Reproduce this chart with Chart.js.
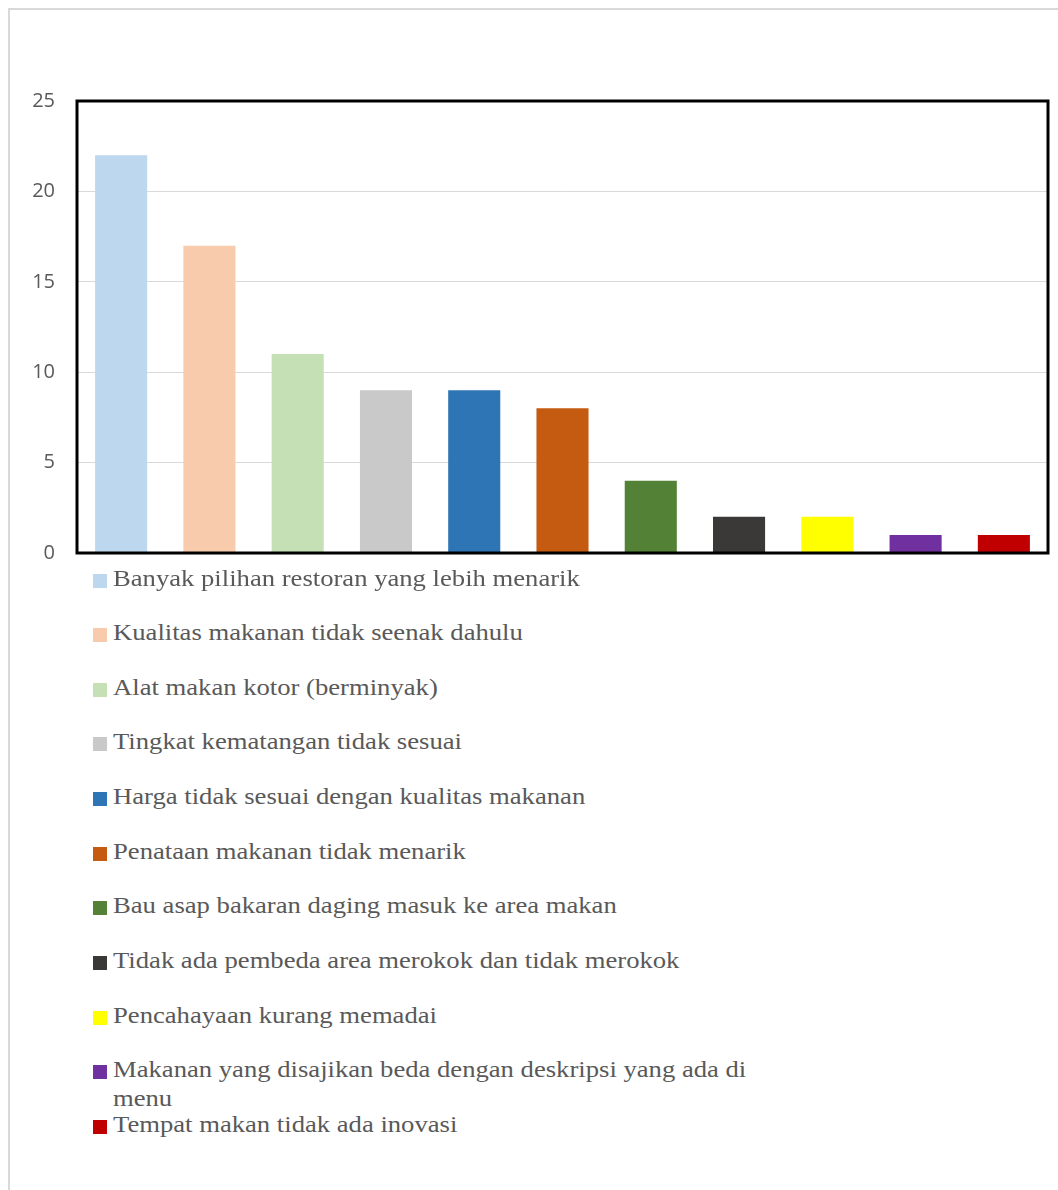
<!DOCTYPE html>
<html>
<head>
<meta charset="utf-8">
<script src="https://cdn.jsdelivr.net/npm/chart.js@4/dist/chart.umd.min.js"></script>
<style>
  html, body { margin: 0; padding: 0; background: #fff; }
  body { width: 1058px; height: 1190px; position: relative; overflow: hidden; }
  #frame { position: absolute; left: 8px; top: 8px; width: 1070px; height: 1200px; border: 2px solid #d9d9d9; box-sizing: border-box; }
  #barChart { position: absolute; left: 0; top: 0; }
  #legend { position: absolute; left: 0; top: 0; }
  .item { position: absolute; left: 93px; width: 700px; }
  .box { position: absolute; left: 0; top: 10px; width: 14px; height: 14px; }
  .txt { position: absolute; left: 20px; top: 0; width: 590px; font-family: "Liberation Serif", "Times New Roman", serif; font-size: 24px; line-height: 29px; color: #595959; transform: scaleX(1.11); transform-origin: 0 0; }
</style>
</head>
<body>
<div id="frame"></div>
<canvas id="barChart" width="1058" height="587"></canvas>
<div id="legend"></div>
<script>
// Alasan tidak kembali
const categories = [
    'Banyak pilihan restoran yang lebih menarik',
    'Kualitas makanan tidak seenak dahulu',
    'Alat makan kotor (berminyak)',
    'Tingkat kematangan tidak sesuai',
    'Harga tidak sesuai dengan kualitas makanan',
    'Penataan makanan tidak menarik',
    'Bau asap bakaran daging masuk ke area makan',
    'Tidak ada pembeda area merokok dan tidak merokok',
    'Pencahayaan kurang memadai',
    'Makanan yang disajikan beda dengan deskripsi yang ada di menu',
    'Tempat makan tidak ada inovasi'
];
const values = [22, 17, 11, 9, 9, 8, 4, 2, 2, 1, 1];
const barColors = ['#BDD7EE', '#F8CBAD', '#C5E0B4', '#C9C9C9', '#2E75B6', '#C55A11',
    '#538135', '#3B3838', '#FFFF00', '#7030A0', '#C00000'];
const yTicks = [0, 5, 10, 15, 20, 25];

// black frame round the plot area
const plotBorder = {
    id: 'plotBorder',
    afterDraw(chart) {
        const a = chart.chartArea;
        const c = chart.ctx;
        c.save();
        c.strokeStyle = '#000';
        c.lineWidth = 3;
        c.strokeRect(a.left, a.top, a.right - a.left, a.bottom - a.top);
        c.restore();
    }
};

const ctx = document.getElementById('barChart').getContext('2d');
const barChart = new Chart(ctx, {
    type: 'bar',
    data: {
        labels: categories,
        datasets: [{
            data: values,
            backgroundColor: barColors,
            borderWidth: 0,
            categoryPercentage: 1,
            barPercentage: 0.59
        }]
    },
    options: {
        responsive: false,
        animation: false,
        layout: { padding: { left: 0, top: 101, right: 10, bottom: 17 } },
        plugins: {
            legend: { display: false },
            tooltip: { enabled: false }
        },
        scales: {
            x: {
                display: false
            },
            y: {
                min: yTicks[0],
                max: yTicks[yTicks.length - 1],
                afterBuildTicks: (s) => { s.ticks = yTicks.map(v => ({ value: v })); },
                afterFit: (s) => { s.width = 77; },
                grid: { color: '#d9d9d9', lineWidth: 1, drawTicks: false },
                border: { display: false },
                ticks: {
                    padding: 22,
                    color: '#595959',
                    font: { family: 'Open Sans', size: 20 }
                }
            }
        }
    },
    plugins: [plotBorder]
});

// legend below the chart, one entry per category
const legendEl = document.getElementById('legend');
categories.forEach((label, i) => {
    const item = document.createElement('div');
    item.className = 'item';
    item.style.top = (563.5 + i * 54.65) + 'px';
    const box = document.createElement('span');
    box.className = 'box';
    box.style.background = barColors[i];
    const txt = document.createElement('span');
    txt.className = 'txt';
    txt.textContent = label;
    item.appendChild(box);
    item.appendChild(txt);
    legendEl.appendChild(item);
});
</script>
</body>
</html>
